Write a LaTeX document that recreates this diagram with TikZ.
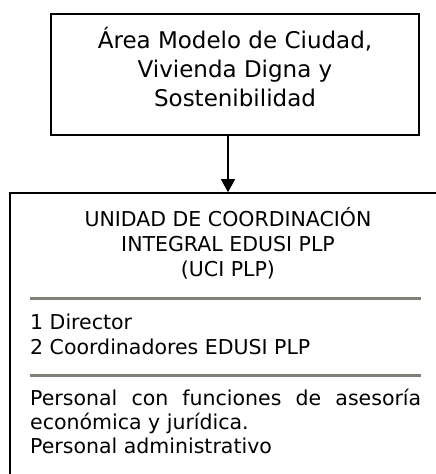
\documentclass[tikz,border=0pt]{standalone}
\usepackage{fontspec}
\setmainfont{DejaVu Sans}
\usetikzlibrary{arrows.meta}
\usetikzlibrary{positioning}
\definecolor{mygray}{RGB}{128,128,120}
\newcommand\myrule[1]{%
  \draw[grayrule] (30,#1) -- (421,#1);
}

\begin{document}
\begin{tikzpicture}[
x=1pt, y=-1pt,
mybox/.style={
  draw,
  line width=1.6pt,
  inner sep=0pt},
mytext/.style={
  inner sep=0pt,
  text height=15pt,
  font=\fontsize{20.5}{25}\selectfont},
grayrule/.style={
  draw=mygray,
  line width=3pt},
myarrow/.style={
  line width=1.2pt,
  -{Triangle[length=13pt,width=14pt]}}
]
\useasboundingbox (0,0) rectangle (436,474);
\node[mybox,minimum width=368pt,minimum height=121pt,align=center,
  text height=77pt,text depth=14pt,
  font=\fontsize{23}{29}\selectfont] (area) at (235,74.5)
  {Área Modelo de Ciudad,\\Vivienda Digna y\\Sostenibilidad};
\node[mybox,minimum width=436pt,minimum height=300pt] (uci) at (228,343) {};
\node[mytext,align=center,below=68.7pt of uci.north] (titulo)
  {UNIDAD DE COORDINACIÓN\\INTEGRAL EDUSI PLP\\(UCI PLP)};
\myrule{298}
\node[mytext,align=left,anchor=north west] (personal) at (30,339)
  {1 Director\\2 Coordinadores EDUSI PLP};
\myrule{375}
\node[mytext,text width=391pt,align=justify,anchor=north west,
  font=\fontsize{20.5}{24}\selectfont] (apoyo) at (30,390)
  {Personal con funciones de asesoría\linebreak económica y jurídica.\newline Personal administrativo};
\draw[myarrow] ([xshift=-7pt]area.south) -- ([xshift=-7pt]area.south |- uci.north);
\end{tikzpicture}
\end{document}
